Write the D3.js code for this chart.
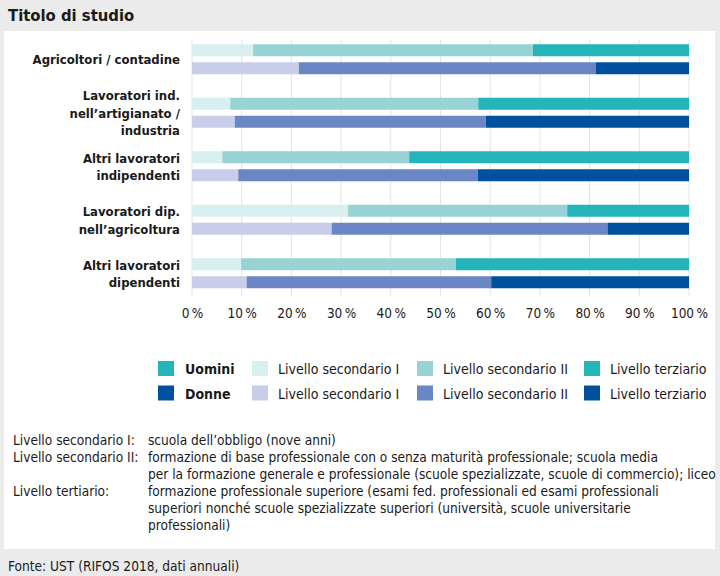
<!DOCTYPE html>
<html>
<head>
<meta charset="utf-8">
<style>
  body { margin: 0; background: #ebebeb; }
  svg text { font-family: 'DejaVu Sans Condensed', 'DejaVu Sans', sans-serif; font-stretch: condensed; fill: #1a1a1a; }
  svg .grid line { stroke: #e3e3e3; stroke-width: 1px; }
  svg .cat { font-size: 13px; font-weight: bold; }
  svg .tick text { font-size: 13.5px; }
  svg .leg { font-size: 14px; }
  svg .note { font-size: 13.6px; }
</style>
</head>
<body>
<script src="https://d3js.org/d3.v7.min.js"></script>
<script>
var categories = ["Agricoltori / contadine", "Lavoratori ind. nell’artigianato / industria",
  "Altri lavoratori indipendenti", "Lavoratori dip. nell’agricoltura", "Altri lavoratori dipendenti"];
var catLines = [
  ["Agricoltori / contadine"],
  ["Lavoratori ind.", "nell’artigianato /", "industria"],
  ["Altri lavoratori", "indipendenti"],
  ["Lavoratori dip.", "nell’agricoltura"],
  ["Altri lavoratori", "dipendenti"]
];
var sexes = ["Uomini", "Donne"];
var levels = ["Livello secondario I", "Livello secondario II", "Livello terziario"];

// shares in %, per category: [sec I, sec II, terziario]
var uomini = [
  [12.3, 56.3, 31.4],
  [7.7, 49.9, 42.4],
  [6.1, 37.6, 56.3],
  [31.4, 44.1, 24.5],
  [9.9, 43.2, 46.9]
];
var donne = [
  [21.5, 59.7, 18.8],
  [8.6, 50.5, 40.9],
  [9.3, 48.2, 42.5],
  [28.1, 55.5, 16.4],
  [11.0, 49.2, 39.8]
];
var xTicks = [0, 10, 20, 30, 40, 50, 60, 70, 80, 90, 100];

var colors = {
  Uomini: ["#d8eff0", "#97d2d4", "#23b5b9"],
  Donne:  ["#c8cdea", "#6a86c4", "#0050a0"]
};

var notes = [
  ["Livello secondario I:", ["scuola dell’obbligo (nove anni)"]],
  ["Livello secondario II:", ["formazione di base professionale con o senza maturità professionale; scuola media",
    "per la formazione generale e professionale (scuole spezializzate, scuole di commercio); liceo"]],
  ["Livello tertiario:", ["formazione professionale superiore (esami fed. professionali ed esami professionali",
    "superiori nonché scuole spezializzate superiori (università, scuole universitarie",
    "professionali)"]]
];

var W = 720, H = 576;
var svg = d3.select("body").append("svg").attr("width", W).attr("height", H);

svg.append("rect").attr("width", W).attr("height", H).attr("fill", "#ebebeb");
svg.append("rect").attr("x", 4).attr("y", 31).attr("width", 711).attr("height", 518).attr("fill", "#fff");

svg.append("text").attr("x", 8).attr("y", 21)
  .text("Titolo di studio")
  .style("font-size", "16.5px").style("font-weight", "bold");

// scales
var x = d3.scaleLinear().domain([0, 100]).range([192, 689]);
var y0 = d3.scaleBand().domain(categories).range([32.5, 300]);
var y1 = d3.scaleBand().domain(sexes).range([0, 30]).paddingInner(1 / 3);

// grid
svg.append("g").attr("class", "grid")
  .selectAll("line").data(xTicks).join("line")
    .attr("x1", d => x(d)).attr("x2", d => x(d))
    .attr("y1", 40).attr("y2", 296);

// bars
var stack = d3.stack().keys([0, 1, 2]);
sexes.forEach(function (s) {
  var rows = (s === "Uomini" ? uomini : donne).map(function (v, i) {
    return { cat: categories[i], 0: v[0], 1: v[1], 2: v[2] };
  });
  var series = stack(rows);
  svg.append("g").selectAll("g").data(series).join("g")
      .attr("fill", (d, i) => colors[s][i])
    .selectAll("rect").data(d => d).join("rect")
      .attr("x", d => x(d[0]))
      .attr("width", d => x(d[1]) - x(d[0]))
      .attr("y", d => y0(d.data.cat) + y0.bandwidth() / 2 - 15 + y1(s))
      .attr("height", y1.bandwidth());
});

// category labels
var cat = svg.append("g").selectAll("text").data(categories).join("text")
  .attr("class", "cat")
  .attr("text-anchor", "end")
  .attr("x", 180)
  .attr("y", d => y0(d) + y0.bandwidth() / 2);
cat.each(function (d, i) {
  var lines = catLines[i], n = lines.length;
  d3.select(this).selectAll("tspan").data(lines).join("tspan")
    .attr("x", 180)
    .attr("dy", (l, j) => j === 0 ? (5 - (n - 1) * 17.5 / 2) + "px" : "17.5px")
    .text(l => l);
});

// x axis
var xAxis = d3.axisBottom(x).tickValues(xTicks).tickSize(0).tickPadding(0)
  .tickFormat(d => d + "\u2009%");
var ax = svg.append("g").attr("transform", "translate(0,305)").call(xAxis);
ax.select(".domain").remove();
ax.selectAll(".tick text").attr("dy", "13px").style("fill", "#1a1a1a");

// legend
var legCols = [158, 252, 417, 584];
sexes.forEach(function (s, r) {
  var ly = 361 + r * 24.5;
  var g = svg.append("g").attr("transform", "translate(0," + ly + ")");
  g.append("rect").attr("x", legCols[0]).attr("width", 16).attr("height", 15).attr("fill", colors[s][2]);
  g.append("text").attr("class", "leg").attr("x", legCols[0] + 27).attr("y", 13)
    .style("font-weight", "bold").text(s);
  levels.forEach(function (l, i) {
    g.append("rect").attr("x", legCols[i + 1]).attr("width", 16).attr("height", 15).attr("fill", colors[s][i]);
    g.append("text").attr("class", "leg").attr("x", legCols[i + 1] + 26).attr("y", 13).text(l);
  });
});

// notes
var ny = 445;
notes.forEach(function (n) {
  svg.append("text").attr("class", "note").attr("x", 13).attr("y", ny).text(n[0]);
  n[1].forEach(function (t) {
    svg.append("text").attr("class", "note").attr("x", 148).attr("y", ny).text(t);
    ny += 17;
  });
});

svg.append("text").attr("class", "note").attr("x", 8).attr("y", 571)
  .text("Fonte: UST (RIFOS 2018, dati annuali)");
</script>
</body>
</html>
